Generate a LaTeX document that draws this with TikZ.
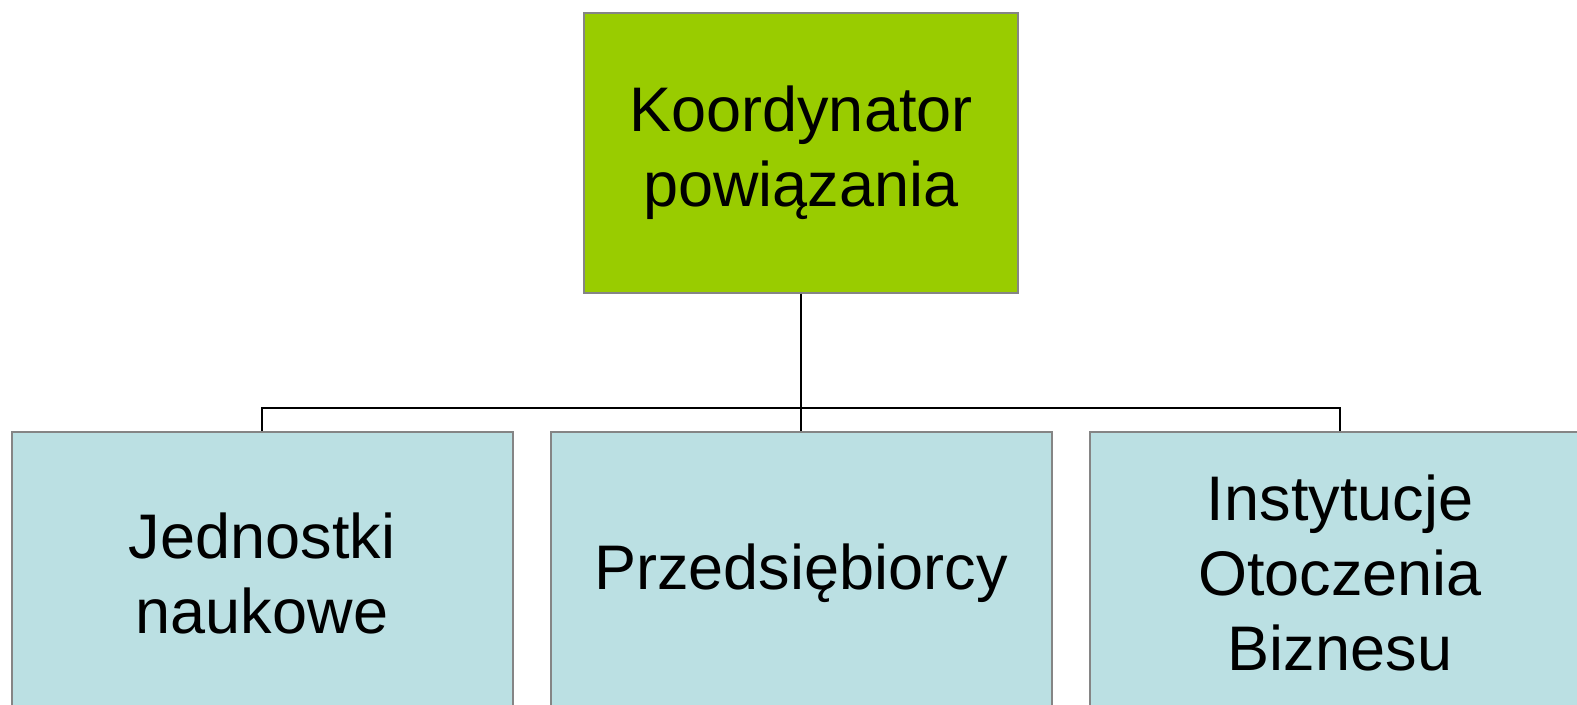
\documentclass[tikz,border=0pt]{standalone}
\usepackage{fontspec}
\setmainfont{Liberation Sans}
\usepackage{tikz}

\definecolor{koordgreen}{HTML}{99CC00}
\definecolor{unitblue}{HTML}{BBE0E3}
\definecolor{framegray}{HTML}{858585}

\tikzset{
  orgbox/.style={draw=framegray, line width=1pt, align=center,
        font=\fontsize{31.5}{37.5}\selectfont, inner sep=0pt},
  headbox/.style={orgbox, fill=koordgreen,
        minimum width=217pt, minimum height=140pt},
  unitbox/.style={orgbox, fill=unitblue,
        minimum width=250.5pt, minimum height=141pt},
  link/.style={draw=black, line width=1.1pt}
}

\begin{document}
\begin{tikzpicture}[x=0.5pt,y=-0.5pt]

\useasboundingbox (0,0) rectangle (1577,705);
\fill [white] (0,0) rectangle (1577,705);
\clip (0,0) rectangle (1577,705);

\node [headbox] (koord) at (801,153) {Koordynator\\powiązania};

\node [unitbox] (jedn) at (262,573) {Jednostki\\naukowe};
\node [unitbox] (przed) at (801,573) {Przedsiębiorcy};
\node [unitbox] (inst) at (1340,573) {Instytucje\\Otoczenia\\Biznesu};

\draw [link] (koord.south) -- ++(0,114) -| (jedn.north);
\draw [link] (koord.south) -- ++(0,114) -| (przed.north);
\draw [link] (koord.south) -- ++(0,114) -| (inst.north);
\end{tikzpicture}
\end{document}
